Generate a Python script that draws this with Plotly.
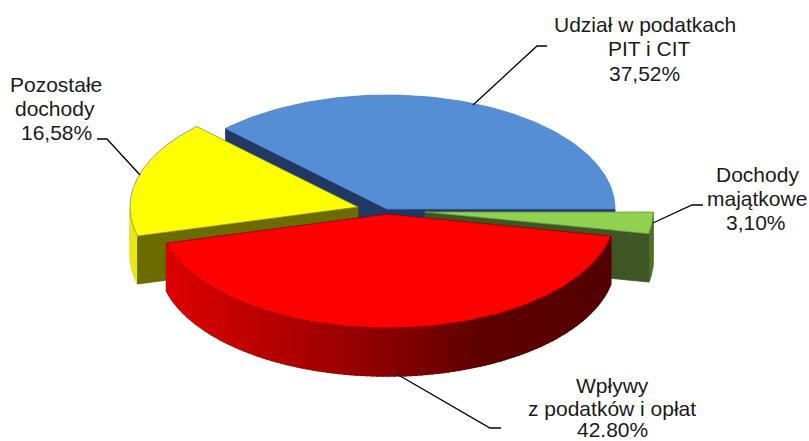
import numpy as np
import plotly.graph_objects as go

# --- data ---
categories = ["Udział w podatkach PIT i CIT", "Pozostałe dochody", "Wpływy z podatków i opłat", "Dochody majątkowe"]
values = [37.52, 16.58, 42.80, 3.10]
label_lines = [
    ["Udział w podatkach", "PIT i CIT", "37,52%"],
    ["Pozostałe", "dochody", "16,58%"],
    ["Wpływy", "z podatków i opłat", "42.80%"],
    ["Dochody", "majątkowe", "3,10%"],
]

# --- style / layout ---
W, H = 809, 441
RX, RY, DEPTH = 228, 114, 48
centers = [(387, 209), (358, 207), (387, 214), (425, 212)]
top_colors = ["#558ED5", "#FFFF00", "#FF0000", "#92D050"]
edge_colors = ["#4A7FC4", "#8A8A60", "#8A0000", "#6E9C40"]
cut_colors = ["#1F3864", "#6B6B00", "#800000", "#3E5623"]
label_pos = [
    [(645, 24.5), (649, 48.5), (644, 73.5)],
    [(56, 84), (55, 108), (56, 132)],
    [(612, 385), (612, 408), (612, 429)],
    [(757, 174), (757, 198.5), (756, 222.5)],
]
leaders = [
    [(473, 105), (537, 46), (547, 46)],
    [(140, 175), (107, 139), (97, 139)],
    [(395, 373), (490, 428), (501, 428)],
    [(653, 223), (692, 205), (703, 205)],
]

fig = go.Figure()
cum = np.cumsum([0] + values) / sum(values) * 360.0
spans = [(cum[i], cum[i + 1]) for i in range(len(values))]


def pt(c, a, dz=0, rx=RX, ry=RY):
    r = np.radians(a)
    return c[0] + rx * np.cos(r), c[1] - ry * np.sin(r) + dz


def poly(xs, ys, fill, line=None, lw=0.8):
    fig.add_trace(go.Scatter(
        x=list(xs), y=list(ys), mode="lines", fill="toself", fillcolor=fill,
        line=dict(color=line or fill, width=lw), hoverinfo="skip", showlegend=False))


def top(i):
    c = centers[i]
    a0, a1 = spans[i]
    aa = np.linspace(a0, a1, 120)
    p = [pt(c, a) for a in aa]
    xs = [c[0]] + [q[0] for q in p] + [c[0]]
    ys = [c[1]] + [q[1] for q in p] + [c[1]]
    poly(xs, ys, top_colors[i], edge_colors[i])


def cut(i, a):
    c = centers[i]
    e = pt(c, a)
    poly([c[0], e[0], e[0], c[0], c[0]],
         [c[1], e[1], e[1] + DEPTH, c[1] + DEPTH, c[1]], cut_colors[i])


def wall(i, a0, a1, color_fn, n):
    c = centers[i]
    edges = np.linspace(a0, a1, n + 1)
    for k in range(n):
        aa = np.linspace(edges[k], edges[k + 1], 5)
        p = [pt(c, a) for a in aa]
        xs = [q[0] for q in p] + [q[0] for q in p[::-1]]
        ys = [q[1] for q in p] + [q[1] + DEPTH for q in p[::-1]]
        mid = pt(c, (edges[k] + edges[k + 1]) / 2)[0]
        col = color_fn(mid)
        poly(xs + xs[:1], ys + ys[:1], col, lw=1.6)


def red_col(x):
    r = np.interp(x, [167, 280, 383, 480, 610], [222, 180, 140, 95, 84])
    return f"rgb({int(r)},0,0)"


def yellow_col(x):
    return "rgb(232,232,24)"


def green_col(x):
    return "rgb(78,110,44)"


# blue slice
cut(0, spans[0][1])
cut(0, spans[0][0])
top(0)
# yellow slice
wall(1, 180, spans[1][1], yellow_col, 4)
cut(1, spans[1][1])
top(1)
# green slice
wall(3, spans[3][0], spans[3][1], green_col, 3)
cut(3, spans[3][0])
top(3)
# red slice
wall(2, spans[2][0], spans[2][1], red_col, 110)
top(2)

# leader lines
for pts in leaders:
    fig.add_trace(go.Scatter(x=[p[0] for p in pts], y=[p[1] for p in pts], mode="lines",
                             line=dict(color="#000000", width=1.3), hoverinfo="skip", showlegend=False))

# labels
for lines, pos in zip(label_lines, label_pos):
    for txt, (x, y) in zip(lines, pos):
        fig.add_annotation(x=x, y=y, text=txt, showarrow=False, xanchor="center", yanchor="middle",
                           font=dict(family="Liberation Sans", size=21, color="#1a1a1a"))

fig.update_layout(
    width=W, height=H, margin=dict(l=0, r=0, t=0, b=0),
    paper_bgcolor="white", plot_bgcolor="white", showlegend=False,
    xaxis=dict(range=[0, W], visible=False, fixedrange=True),
    yaxis=dict(range=[H, 0], visible=False, fixedrange=True),
)
fig.write_html("out.html", config={"displayModeBar": False},
               post_script="document.body.style.margin='0';document.documentElement.style.overflow='hidden';")
